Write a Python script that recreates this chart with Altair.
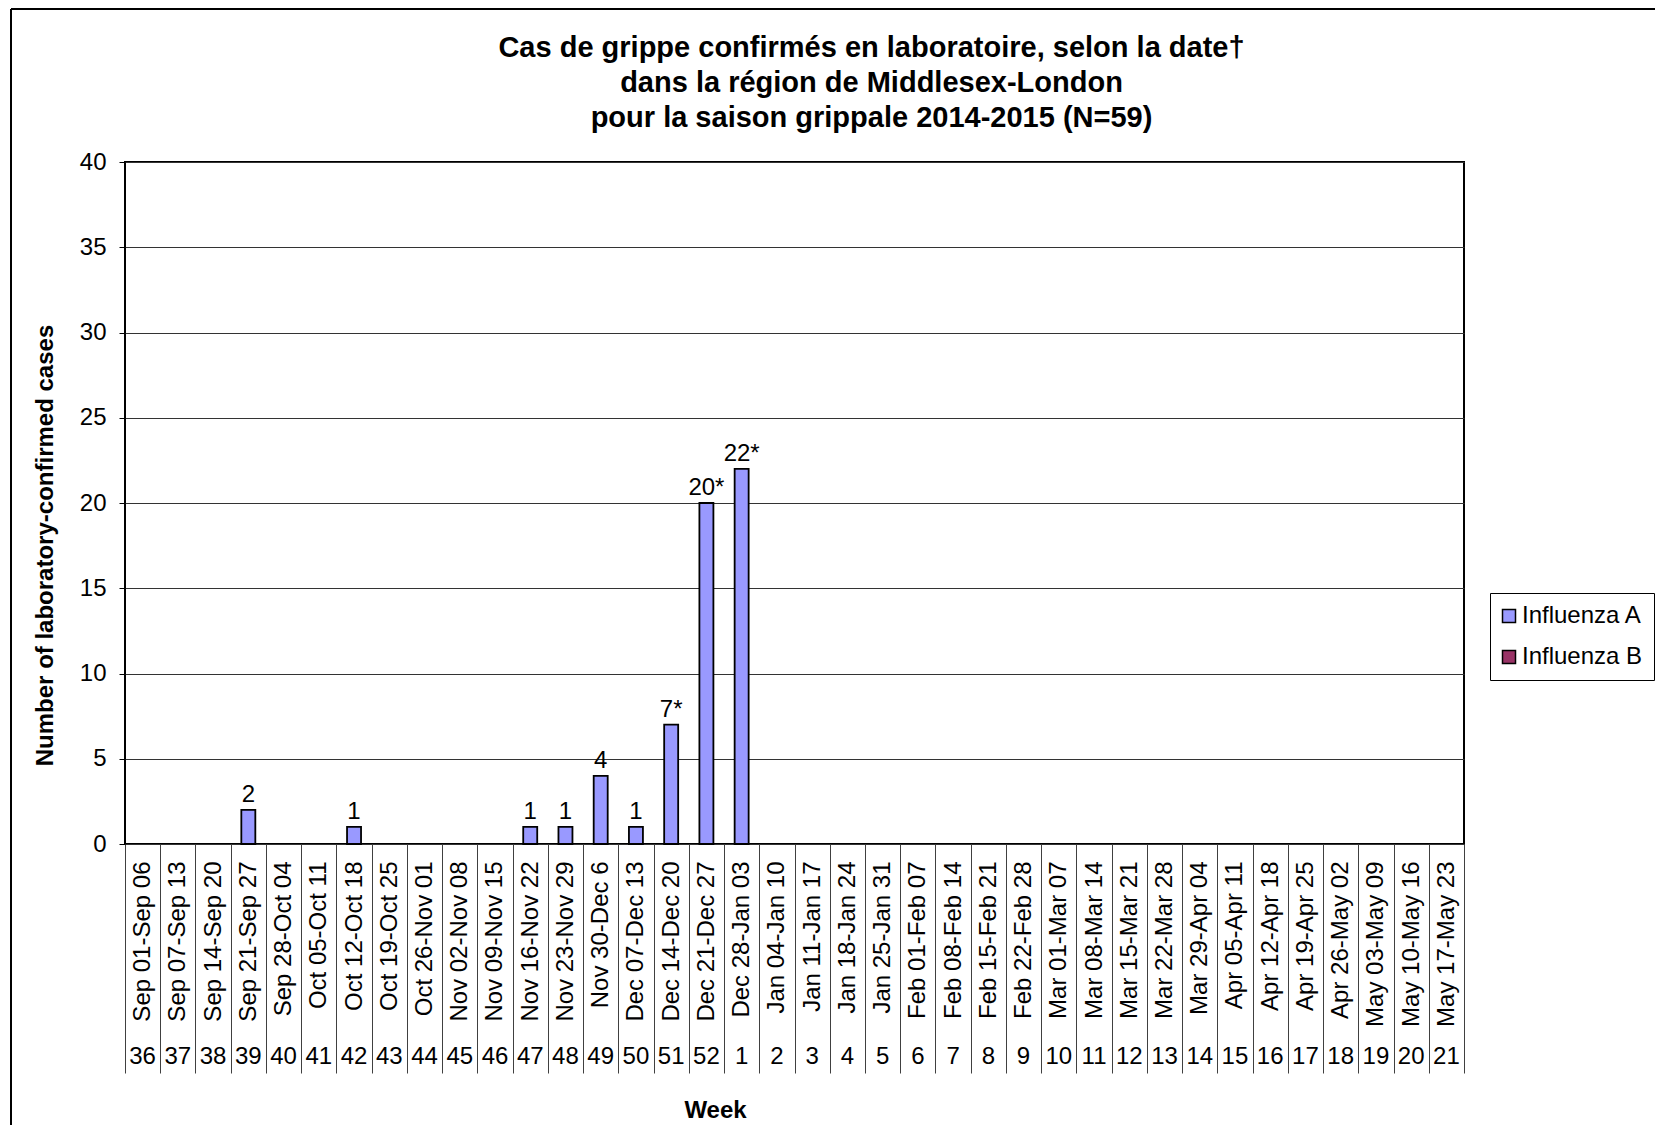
import altair as alt
import pandas as pd

weeks = ["36", "37", "38", "39", "40", "41", "42", "43", "44", "45", "46", "47", "48",
         "49", "50", "51", "52", "1", "2", "3", "4", "5", "6", "7", "8", "9", "10", "11",
         "12", "13", "14", "15", "16", "17", "18", "19", "20", "21"]

date_ranges = [
    "Sep 01-Sep 06", "Sep 07-Sep 13", "Sep 14-Sep 20", "Sep 21-Sep 27", "Sep 28-Oct 04",
    "Oct 05-Oct 11", "Oct 12-Oct 18", "Oct 19-Oct 25", "Oct 26-Nov 01", "Nov 02-Nov 08",
    "Nov 09-Nov 15", "Nov 16-Nov 22", "Nov 23-Nov 29", "Nov 30-Dec 6", "Dec 07-Dec 13",
    "Dec 14-Dec 20", "Dec 21-Dec 27", "Dec 28-Jan 03", "Jan 04-Jan 10", "Jan 11-Jan 17",
    "Jan 18-Jan 24", "Jan 25-Jan 31", "Feb 01-Feb 07", "Feb 08-Feb 14", "Feb 15-Feb 21",
    "Feb 22-Feb 28", "Mar 01-Mar 07", "Mar 08-Mar 14", "Mar 15-Mar 21", "Mar 22-Mar 28",
    "Mar 29-Apr 04", "Apr 05-Apr 11", "Apr 12-Apr 18", "Apr 19-Apr 25", "Apr 26-May 02",
    "May 03-May 09", "May 10-May 16", "May 17-May 23"]

influenza_a = [0, 0, 0, 2, 0, 0, 1, 0, 0, 0, 0, 1, 1, 4, 1, 7, 20, 22, 0, 0,
               0, 0, 0, 0, 0, 0, 0, 0, 0, 0, 0, 0, 0, 0, 0, 0, 0, 0]

bar_labels = ["", "", "", "2", "", "", "1", "", "", "", "", "1", "1", "4", "1", "7*", "20*", "22*", "", "",
              "", "", "", "", "", "", "", "", "", "", "", "", "", "", "", "", "", ""]

series_names = ["Influenza A", "Influenza B"]
series_colors = ["#9999FF", "#993366"]

title_lines = ["Cas de grippe confirmés en laboratoire, selon la date\u2020",
               "dans la région de Middlesex-London",
               "pour la saison grippale 2014-2015 (N=59)"]

df = pd.DataFrame({
    "range": date_ranges,
    "week": weeks,
    "value": influenza_a,
    "label": bar_labels,
    "series": ["Influenza A"] * len(weeks),
})

FONT = "Liberation Sans"
W, H = 1339, 682

x_scale = alt.Scale(paddingInner=0, paddingOuter=0)
x_axis = alt.Axis(
    title="Week", titleFont=FONT, titleFontSize=24, titleFontWeight="bold", titleColor="black",
    titleX=590, titleY=266, titleAlign="center", titleBaseline="middle",
    labelAngle=-90, labelFont=FONT, labelFontSize=24, labelColor="black",
    labelPadding=-212, labelLimit=300,
    ticks=True, tickBand="extent", tickSize=229, tickColor="#404040", tickWidth=1,
    domain=False, grid=False,
)
x_main = alt.X("range:N", sort=date_ranges, scale=x_scale, axis=x_axis)

y_scale = alt.Scale(domain=[0, 40], nice=False)
y_axis = alt.Axis(
    title="Number of laboratory-confirmed cases", titleFont=FONT, titleFontSize=24,
    titleFontWeight="bold", titleColor="black", titleX=-80, titleY=383, titleAngle=270,
    titleAlign="center", titleBaseline="middle",
    values=list(range(0, 41, 5)), labelFont=FONT, labelFontSize=24, labelColor="black",
    labelPadding=13, tickSize=6, tickColor="black", tickWidth=1,
    grid=True, gridColor="#333333", gridWidth=1, domain=False,
)
y_main = alt.Y("value:Q", scale=y_scale, axis=y_axis)

bars = alt.Chart(df).transform_filter("datum.value > 0").mark_bar(
    width=14, stroke="black", strokeWidth=1.8
).encode(
    x=x_main,
    y=y_main,
    color=alt.Color(
        "series:N",
        scale=alt.Scale(domain=series_names, range=series_colors),
        legend=alt.Legend(
            title=None, orient="none", legendX=1365, legendY=431,
            symbolType="square", symbolSize=169, symbolStrokeColor="black",
            symbolStrokeWidth=1.5, symbolOpacity=1, symbolOffset=-4,
            labelFont=FONT, labelFontSize=24, labelColor="black", labelOffset=1,
            padding=11, rowPadding=17, strokeColor="black", fillColor="white",
        ),
    ),
)

bar_text = alt.Chart(df).transform_filter("datum.value > 0").mark_text(
    baseline="alphabetic", dy=-8, font=FONT, fontSize=24, color="black"
).encode(x=x_main, y=y_main, text="label:N")

week_text = alt.Chart(df).mark_text(
    baseline="middle", align="center", font=FONT, fontSize=24, color="black"
).encode(x=x_main, y=alt.value(895), text="week:N")

frame_df = pd.DataFrame({"k": [0]})
frame_top = alt.Chart(frame_df).mark_rule(color="black", strokeWidth=2).encode(
    x=alt.value(-114), x2=alt.value(1700), y=alt.value(-153))
frame_left = alt.Chart(frame_df).mark_rule(color="black", strokeWidth=2).encode(
    x=alt.value(-114), y=alt.value(-153), y2=alt.value(1100))

chart = alt.layer(bars, bar_text, week_text, frame_top, frame_left).properties(
    width=W, height=H,
    title=alt.TitleParams(
        text=title_lines, font=FONT, fontSize=29, fontWeight="bold", color="black",
        anchor="middle", frame="group", dx=77, offset=-125, lineHeight=35,
    ),
    autosize=alt.AutoSizeParams(type="none"),
    padding={"left": 117, "top": 154, "right": 191, "bottom": 281},
).configure(background="white").configure_view(stroke="black", strokeWidth=2)

chart.save("out.html", embed_options={"renderer": "svg", "actions": False})
